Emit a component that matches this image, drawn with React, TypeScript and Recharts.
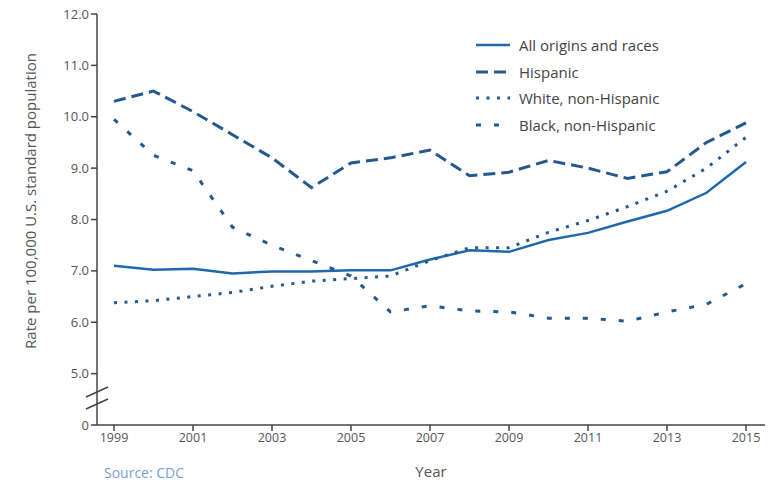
import React from "react";
import { LineChart, Line, XAxis, YAxis } from "recharts";

const years = [1999, 2000, 2001, 2002, 2003, 2004, 2005, 2006, 2007, 2008, 2009, 2010, 2011, 2012, 2013, 2014, 2015];
const allOrigins = [7.1, 7.02, 7.04, 6.95, 6.99, 6.99, 7.01, 7.01, 7.22, 7.4, 7.37, 7.6, 7.74, 7.96, 8.17, 8.52, 9.12];
const hispanic = [10.3, 10.5, 10.1, 9.65, 9.2, 8.62, 9.1, 9.2, 9.35, 8.85, 8.92, 9.15, 9.0, 8.8, 8.93, 9.5, 9.88];
const white = [6.38, 6.42, 6.5, 6.58, 6.7, 6.8, 6.85, 6.9, 7.2, 7.45, 7.45, 7.75, 7.98, 8.25, 8.55, 9.0, 9.6];
const black = [9.95, 9.25, 8.95, 7.85, 7.5, 7.2, 6.9, 6.2, 6.32, 6.22, 6.2, 6.08, 6.08, 6.02, 6.2, 6.35, 6.75];

const xTicks = [1999, 2001, 2003, 2005, 2007, 2009, 2011, 2013, 2015];
const yTicks = [4, 5, 6, 7, 8, 9, 10, 11, 12];

const data = years.map((y, i) => ({
  year: y,
  all: allOrigins[i],
  hisp: hispanic[i],
  white: white[i],
  black: black[i],
}));

const SOLID = "#1f68ad";
const DARK = "#24598f";
const FONT = "'Open Sans', sans-serif";

const series = [
  { key: "all", name: "All origins and races", color: SOLID, dash: undefined as string | undefined, w: 2.5 },
  { key: "hisp", name: "Hispanic", color: DARK, dash: "12 6", w: 3 },
  { key: "white", name: "White, non-Hispanic", color: DARK, dash: "3 7.5", w: 3 },
  { key: "black", name: "Black, non-Hispanic", color: DARK, dash: "5 13", w: 3 },
];

const YLabel = () => (
  <text x={30} y={201} transform="rotate(-90 30 201)" textAnchor="middle" dominantBaseline="central" fontSize={15} fill="#555" fontFamily={FONT}>
    Rate per 100,000 U.S. standard population
  </text>
);

export default function App() {
  return (
    <div style={{ position: "absolute", left: 0, top: 0, width: 769, height: 482, background: "#fff", overflow: "hidden" }}>
      <LineChart width={769} height={482} data={data} margin={{ top: 14, right: 4, bottom: 0, left: 0 }}>
        <XAxis
          dataKey="year"
          type="number"
          domain={[1999, 2015]}
          ticks={xTicks}
          padding={{ left: 17, right: 19 }}
          tickSize={6}
          tick={{ fontSize: 12.5, fill: "#555", fontFamily: FONT }}
          axisLine={{ stroke: "#444", strokeWidth: 1.5 }}
          tickLine={{ stroke: "#444", strokeWidth: 1.5 }}
          height={57}
          label={{ value: "Year", position: "insideBottom", offset: 5, fontSize: 15, fill: "#555", fontFamily: FONT }}
        />
        <XAxis xAxisId="top" orientation="top" dataKey="year" type="number" domain={[1999, 2015]} tick={false} tickLine={false} height={0} axisLine={{ stroke: "#444", strokeWidth: 1.5 }} />
        <YAxis
          type="number"
          domain={[4, 12]}
          ticks={yTicks}
          interval={0}
          tickSize={6}
          width={97}
          tickFormatter={(v: number) => (v === 4 ? "0" : v.toFixed(1))}
          tick={{ fontSize: 13, fill: "#555", fontFamily: FONT }}
          axisLine={{ stroke: "#444", strokeWidth: 1.5 }}
          tickLine={{ stroke: "#444", strokeWidth: 1.5 }}
          label={<YLabel />}
        />
        <YAxis yAxisId="right" orientation="right" domain={[4, 12]} tick={false} tickLine={false} width={0} axisLine={{ stroke: "#444", strokeWidth: 1.5 }} />
        {series.map((s) => (
          <Line
            key={s.key}
            dataKey={s.key}
            name={s.name}
            stroke={s.color}
            strokeWidth={s.w}
            strokeDasharray={s.dash}
            dot={false}
            activeDot={false}
            isAnimationActive={false}
          />
        ))}
      </LineChart>
      <div style={{ position: "absolute", left: 476, top: 32, fontFamily: FONT, fontSize: 15, color: "#444" }}>
        {series.map((s) => (
          <div key={s.key} style={{ display: "flex", alignItems: "center", height: 26.5 }}>
            <svg width={34} height={8} style={{ marginRight: 9 }}>
              <line x1={0} y1={4} x2={34} y2={4} stroke={s.color} strokeWidth={s.w} strokeDasharray={s.dash} />
            </svg>
            <span>{s.name}</span>
          </div>
        ))}
      </div>
      <svg width={769} height={482} style={{ position: "absolute", left: 0, top: 0, pointerEvents: "none" }}>
        <line x1={86} y1={397} x2={108} y2={387} stroke="#444" strokeWidth={1.5} />
        <line x1={86} y1={409} x2={108} y2={399} stroke="#444" strokeWidth={1.5} />
      </svg>
      <div style={{ position: "absolute", left: 104, top: 465, fontFamily: FONT, fontSize: 14, lineHeight: "16px", color: "#7a9fd6" }}>Source: CDC</div>
    </div>
  );
}
